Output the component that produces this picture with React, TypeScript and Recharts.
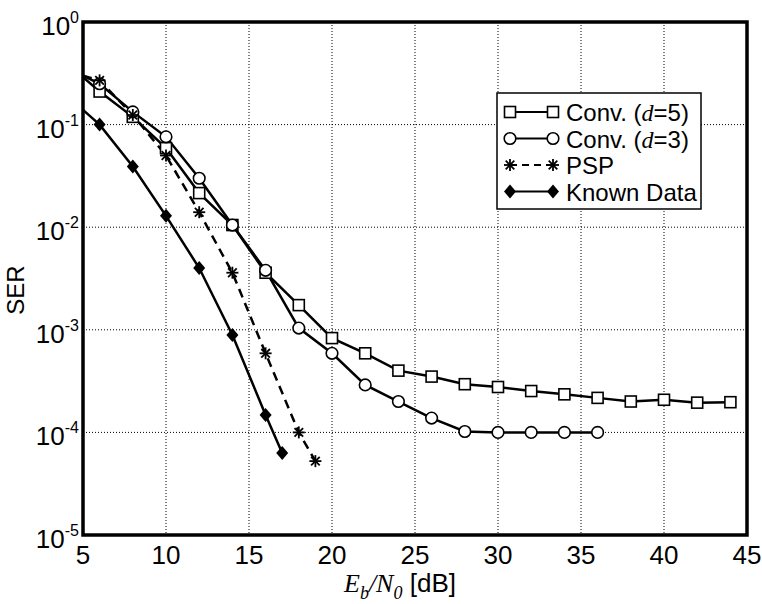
import React from 'react';
import { LineChart, Line, XAxis, YAxis, CartesianGrid, ReferenceArea } from 'recharts';

// Eb/N0 [dB] points per curve
const snrConv5 = [5, 6, 8, 10, 12, 14, 16, 18, 20, 22, 24, 26, 28, 30, 32, 34, 36, 38, 40, 42, 44];
const serConv5 = [
  0.29, 0.21, 0.119, 0.059, 0.0215, 0.0105, 0.0036, 1.74e-3, 8.3e-4, 5.9e-4, 4.0e-4, 3.5e-4, 2.95e-4, 2.77e-4,
  2.53e-4, 2.35e-4, 2.17e-4, 2.0e-4, 2.08e-4, 1.95e-4, 1.97e-4,
];

const snrConv3 = [5, 6, 8, 10, 12, 14, 16, 18, 20, 22, 24, 26, 28, 30, 32, 34, 36];
const serConv3 = [
  0.3, 0.25, 0.133, 0.076, 0.03, 0.0105, 0.0038, 1.04e-3, 5.9e-4, 2.9e-4, 2.0e-4, 1.38e-4, 1.02e-4, 1.0e-4, 1.0e-4,
  1.0e-4, 1.0e-4,
];

const snrPsp = [5, 6, 8, 10, 12, 14, 16, 18, 19];
const serPsp = [0.3, 0.27, 0.124, 0.05, 0.014, 0.0036, 5.9e-4, 1.0e-4, 5.25e-5];

const snrKnown = [5, 6, 8, 10, 12, 14, 16, 17];
const serKnown = [0.139, 0.1, 0.039, 0.0129, 0.004, 8.9e-4, 1.48e-4, 6.3e-5];

const xTicks = [5, 10, 15, 20, 25, 30, 35, 40, 45];
const yTicks = [1e-5, 1e-4, 1e-3, 1e-2, 1e-1, 1];

const SANS = '"Liberation Sans", Arial, Helvetica, sans-serif';
const SERIF = '"Liberation Serif", "Times New Roman", serif';

const toRows = (xs: number[], ys: number[]) => xs.map((x, i) => ({ x, y: ys[i] }));

type Marker = 'square' | 'circle' | 'star' | 'diamond';

const MarkerShape = ({ kind, cx, cy }: { kind: Marker; cx: number; cy: number }) => {
  if (kind === 'square') {
    return <rect x={cx - 5.5} y={cy - 5.5} width={11} height={11} fill="#fff" stroke="#000" strokeWidth={1.6} />;
  }
  if (kind === 'circle') {
    return <circle cx={cx} cy={cy} r={5.8} fill="#fff" stroke="#000" strokeWidth={1.6} />;
  }
  if (kind === 'diamond') {
    return <polygon points={`${cx},${cy - 7} ${cx + 6},${cy} ${cx},${cy + 7} ${cx - 6},${cy}`} fill="#000" />;
  }
  const r = 6;
  const d = r * 0.72;
  return (
    <g stroke="#000" strokeWidth={1.8}>
      <line x1={cx - r} y1={cy} x2={cx + r} y2={cy} />
      <line x1={cx} y1={cy - r} x2={cx} y2={cy + r} />
      <line x1={cx - d} y1={cy - d} x2={cx + d} y2={cy + d} />
      <line x1={cx - d} y1={cy + d} x2={cx + d} y2={cy - d} />
    </g>
  );
};

// markers at 5 dB sit on the frame and are not drawn in the figure
const makeDot = (kind: Marker, name: string) => (props: any) => {
  const { cx, cy, payload, index } = props;
  if (payload.x === 5 || cx == null || cy == null) return <g key={`${name}-${index}`} />;
  return (
    <g key={`${name}-${index}`}>
      <MarkerShape kind={kind} cx={cx} cy={cy} />
    </g>
  );
};

const XTick = (props: any) => {
  const { x, payload } = props;
  return (
    <text x={x} y={564} textAnchor="middle" fontFamily={SANS} fontSize={26} fill="#000">
      {payload.value}
    </text>
  );
};

const YTick = (props: any) => {
  const { y, payload } = props;
  const exp = Math.round(Math.log10(payload.value));
  return (
    <text x={79} y={y + 13} textAnchor="end" fontFamily={SANS} fontSize={26} fill="#000">
      <tspan>10</tspan>
      <tspan dy={-12} fontSize={16}>
        {exp === 0 ? '0' : `-${Math.abs(exp)}`}
      </tspan>
    </text>
  );
};

const LEGEND = [
  { label: 'Conv. (', d: 'd', rest: '=5)', kind: 'square' as Marker, dash: undefined },
  { label: 'Conv. (', d: 'd', rest: '=3)', kind: 'circle' as Marker, dash: undefined },
  { label: 'PSP', d: '', rest: '', kind: 'star' as Marker, dash: '7 5' },
  { label: 'Known Data', d: '', rest: '', kind: 'diamond' as Marker, dash: undefined },
];

export default function App() {
  return (
    <div style={{ position: 'absolute', left: 0, top: 0, width: 762, height: 604, background: '#fff' }}>
      <LineChart width={762} height={604} margin={{ top: 22, right: 15, bottom: 0, left: 0 }}>
        <CartesianGrid stroke="#000" strokeWidth={1} strokeDasharray="1 2" />
        <XAxis
          dataKey="x"
          type="number"
          domain={[5, 45]}
          ticks={xTicks}
          allowDataOverflow
          height={69}
          axisLine={false}
          tickLine={false}
          tick={<XTick />}
        />
        <YAxis
          dataKey="y"
          type="number"
          scale="log"
          domain={[1e-5, 1]}
          ticks={yTicks}
          allowDataOverflow
          width={83}
          axisLine={false}
          tickLine={false}
          tick={<YTick />}
        />
        <Line
          data={toRows(snrConv5, serConv5)}
          dataKey="y"
          stroke="#000"
          strokeWidth={2.5}
          dot={makeDot('square', 'c5')}
          isAnimationActive={false}
        />
        <Line
          data={toRows(snrConv3, serConv3)}
          dataKey="y"
          stroke="#000"
          strokeWidth={2.5}
          dot={makeDot('circle', 'c3')}
          isAnimationActive={false}
        />
        <Line
          data={toRows(snrPsp, serPsp)}
          dataKey="y"
          stroke="#000"
          strokeWidth={2.5}
          strokeDasharray="9 6"
          dot={makeDot('star', 'psp')}
          isAnimationActive={false}
        />
        <Line
          data={toRows(snrKnown, serKnown)}
          dataKey="y"
          stroke="#000"
          strokeWidth={2.5}
          dot={makeDot('diamond', 'kd')}
          isAnimationActive={false}
        />
        <ReferenceArea x1={5} x2={45} y1={1e-5} y2={1} fill="none" stroke="#000" strokeWidth={3.5} ifOverflow="visible" />
      </LineChart>

      <svg width={762} height={604} style={{ position: 'absolute', left: 0, top: 0, pointerEvents: 'none' }}>
        <text
          x={24}
          y={290}
          transform="rotate(-90, 24, 290)"
          textAnchor="middle"
          fontFamily={SANS}
          fontSize={24}
          fill="#000"
        >
          SER
        </text>
        <text x={344} y={592} fontSize={26} fill="#000">
          <tspan fontFamily={SERIF} fontStyle="italic">E</tspan>
          <tspan fontFamily={SERIF} fontStyle="italic" fontSize={18} dy={7}>b</tspan>
          <tspan fontFamily={SERIF} fontStyle="italic" dy={-7}>/N</tspan>
          <tspan fontFamily={SERIF} fontStyle="italic" fontSize={18} dy={7}>0</tspan>
          <tspan fontFamily={SANS} dy={-7}> [dB]</tspan>
        </text>

        <g transform="translate(497, 93)">
          <rect x={0} y={0} width={204} height={116} fill="#fff" stroke="#000" strokeWidth={1.5} />
          {LEGEND.map((it, i) => {
            const cy = 19 + i * 26.5;
            return (
              <g key={it.kind}>
                <line x1={13} y1={cy} x2={56} y2={cy} stroke="#000" strokeWidth={2} strokeDasharray={it.dash} />
                <MarkerShape kind={it.kind} cx={13} cy={cy} />
                <MarkerShape kind={it.kind} cx={56} cy={cy} />
                <text x={69} y={cy + 9} fontFamily={SANS} fontSize={24} fill="#000">
                  <tspan>{it.label}</tspan>
                  {it.d && (
                    <tspan fontFamily={SERIF} fontStyle="italic">
                      {it.d}
                    </tspan>
                  )}
                  {it.rest && <tspan>{it.rest}</tspan>}
                </text>
              </g>
            );
          })}
        </g>
      </svg>
    </div>
  );
}
